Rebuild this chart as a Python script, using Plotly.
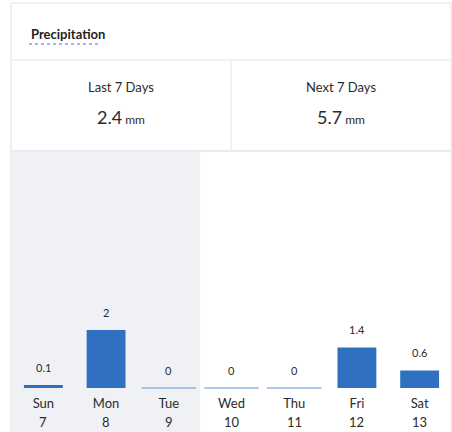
import plotly.graph_objects as go

W, H = 452, 432

# data
days = ["Sun", "Mon", "Tue", "Wed", "Thu", "Fri", "Sat"]
dates = ["7", "8", "9", "10", "11", "12", "13"]
precip_mm = [0.1, 2, 0, 0, 0, 1.4, 0.6]
past_days = 3
summary_labels = ["Last 7 Days", "Next 7 Days"]
summary_values = [2.4, 5.7]

FONT = "Lato, 'Noto Sans', Arial, sans-serif"
TEXT = "#2b2b2b"
BORDER = "#e2e4e7"
BAR = "#3070c1"
ZERO_BAR = "#8fb3e0"
SHADE = "#eff1f5"


def px(x):
    return x / W


def py(y):
    return 1 - y / H


fig = go.Figure()

fig.add_trace(go.Bar(
    x=days, y=precip_mm, marker=dict(color=BAR, line=dict(width=0)),
    width=0.62, hoverinfo="skip",
))

# zero-value days drawn as a thin baseline stroke
zero_days = [d for d, v in zip(days, precip_mm) if v == 0]
fig.add_trace(go.Scatter(
    x=zero_days, y=[0] * len(zero_days), mode="markers",
    marker=dict(symbol="line-ew", size=39, line=dict(color=ZERO_BAR, width=1.5)),
    hoverinfo="skip", cliponaxis=False,
))

annotations = []
for d, v in zip(days, precip_mm):
    annotations.append(dict(
        x=d, y=v, xref="x", yref="y", text=f"{v:g}", showarrow=False,
        yshift=18, font=dict(size=11, color=TEXT),
    ))
for d, n in zip(days, dates):
    annotations.append(dict(
        x=d, y=py(422), xref="x", yref="paper", text=n, showarrow=False,
        font=dict(size=13, color=TEXT), yanchor="middle",
    ))

# summary cells
for i, (lab, val) in enumerate(zip(summary_labels, summary_values)):
    cx = 121 if i == 0 else 341
    annotations.append(dict(
        x=px(cx), y=py(87), xref="paper", yref="paper", text=lab, showarrow=False,
        font=dict(size=13, color=TEXT), xanchor="center", yanchor="middle",
    ))
    annotations.append(dict(
        x=px(cx), y=py(117), xref="paper", yref="paper",
        text=f"{val:g}<span style='font-size:12px'> mm</span>", showarrow=False,
        font=dict(size=18, color=TEXT), xanchor="center", yanchor="middle",
    ))

annotations.append(dict(
    x=px(29), y=py(34), xref="paper", yref="paper", text="<b>Precipitation</b>",
    showarrow=False, xanchor="left", yanchor="middle",
    font=dict(size=13, color="#1f1f1f"),
))

shapes = [
    # shaded past days
    dict(type="rect", xref="x", yref="paper", x0=-0.5, x1=past_days - 0.5,
         y0=0, y1=py(152), fillcolor=SHADE, line=dict(width=0), layer="below"),
    # card border
    dict(type="rect", xref="paper", yref="paper", x0=px(11), x1=px(451),
         y0=-0.05, y1=py(3), line=dict(color=BORDER, width=1)),
    dict(type="line", xref="paper", yref="paper", x0=px(11), x1=px(451),
         y0=py(60), y1=py(60), line=dict(color=BORDER, width=1)),
    dict(type="line", xref="paper", yref="paper", x0=px(11), x1=px(451),
         y0=py(151), y1=py(151), line=dict(color=BORDER, width=1.5)),
    dict(type="line", xref="paper", yref="paper", x0=px(231), x1=px(231),
         y0=py(60), y1=py(151), line=dict(color=BORDER, width=1)),
    # dotted underline under title
    dict(type="line", xref="paper", yref="paper", x0=px(29), x1=px(101),
         y0=py(44), y1=py(44), line=dict(color="#3a78d6", width=1, dash="dot")),
]

fig.update_layout(
    width=W, height=H,
    margin=dict(l=0, r=0, t=0, b=0),
    paper_bgcolor="white", plot_bgcolor="rgba(0,0,0,0)",
    font=dict(family=FONT, color=TEXT),
    showlegend=False,
    bargap=0.38,
    xaxis=dict(
        domain=[px(12), px(451)], type="category",
        showgrid=False, showline=False, zeroline=False, ticks="",
        tickfont=dict(size=13, color=TEXT), ticklabelstandoff=6,
        fixedrange=True,
    ),
    yaxis=dict(
        domain=[py(388), py(152)], range=[0, 8.14],
        showgrid=False, showline=False, zeroline=False,
        showticklabels=False, fixedrange=True,
    ),
    annotations=annotations,
    shapes=shapes,
)

fig.write_html(
    "out.html",
    config={"displayModeBar": False},
    post_script="document.body.style.margin='0';document.body.style.overflow='hidden';",
)
